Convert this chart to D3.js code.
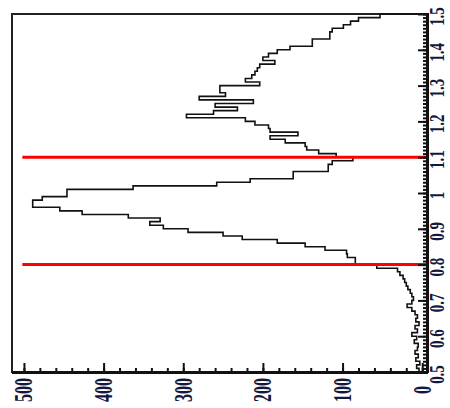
<!DOCTYPE html>
<html>
<head>
<meta charset="utf-8">
<script src="https://cdn.jsdelivr.net/npm/d3@7"></script>
<style>
  body { margin: 0; background: #fff; }
  svg { display: block; }
</style>
</head>
<body>
<svg id="chart" width="450" height="408"></svg>
<script>
// histogram of 0.5..1.5 in bins of 0.01 (lower edge = binStart + i * binWidth)
const binStart = 0.5;
const binWidth = 0.01;
const counts = [
  4, 7, 3, 8, 5, 9, 6, 5, 10, 7,            // 0.50 - 0.59
  13, 6, 9, 4, 8, 6, 9, 13, 19, 13,         // 0.60 - 0.69
  11, 13, 15, 18, 20, 22, 24, 28, 31, 57,   // 0.70 - 0.79
  84, 84, 94, 95, 122, 147, 182, 226, 250, 294,   // 0.80 - 0.89
  325, 342, 329, 369, 427, 455, 489, 489, 477, 446, // 0.90 - 0.99
  446, 363, 258, 216, 162, 162, 118, 118, 113, 87,  // 1.00 - 1.09
  108, 130, 145, 147, 172, 191, 156, 191, 193, 210, // 1.10 - 1.19
  222, 296, 262, 232, 260, 212, 280, 247, 254, 254, // 1.20 - 1.29
  204, 222, 214, 210, 207, 204, 185, 200, 193, 182, // 1.30 - 1.39
  166, 138, 138, 116, 116, 113, 99, 90, 80, 53      // 1.40 - 1.49
];

// cut lines
const cuts = [0.8, 1.1];

// tick values
const valueMajor = [0.5, 0.6, 0.7, 0.8, 0.9, 1, 1.1, 1.2, 1.3, 1.4, 1.5];
const valueLabels = ["0.5", "0.6", "0.7", "0.8", "0.9", "1", "1.1", "1.2", "1.3", "1.4", "1.5"];
const countMajor = [0, 100, 200, 300, 400, 500];

const svg = d3.select("#chart");

// chart is drawn lying on its side: counts run right -> left, values bottom -> top
const plotL = 12, plotR = 427, plotT = 14, plotB = 372;

const x = d3.scaleLinear().domain([-6, 515]).range([plotR, plotL]);
const y = d3.scaleLinear().domain([0.5, 1.5]).range([plotB, plotT]);

// frame
svg.append("rect")
  .attr("x", plotL).attr("y", plotT)
  .attr("width", plotR - plotL).attr("height", plotB - plotT)
  .style("fill", "none")
  .style("stroke", "#222")
  .style("stroke-width", 2);

// histogram outline as one step path
let pts = [[x(0), y(binStart)]];
counts.forEach((c, i) => {
  const v0 = binStart + i * binWidth;
  pts.push([x(c), y(v0)]);
  pts.push([x(c), y(v0 + binWidth)]);
});
pts.push([x(0), y(binStart + counts.length * binWidth)]);

svg.append("path")
  .attr("d", d3.line()(pts))
  .style("fill", "none")
  .style("stroke", "#111")
  .style("stroke-width", 1.6);

// red cut lines
svg.selectAll(".cut")
  .data(cuts)
  .enter()
  .append("line")
  .attr("class", "cut")
  .attr("x1", x(502)).attr("x2", plotR)
  .attr("y1", d => y(d)).attr("y2", d => y(d))
  .style("stroke", "#ff0000")
  .style("stroke-width", 3);

// right axis (values)
const minorValues = d3.range(0, 101).map(i => 0.5 + i / 100);
svg.append("g")
  .attr("transform", `translate(${plotR},0)`)
  .call(d3.axisRight(y).tickValues(minorValues).tickSize(-4).tickFormat(""))
  .call(g => g.select(".domain").remove());

const yAxis = svg.append("g")
  .attr("transform", `translate(${plotR},0)`)
  .call(d3.axisRight(y).tickValues(valueMajor).tickSize(-9)
    .tickFormat((d, i) => valueLabels[i]));

// bottom axis (counts)
const minorCounts = d3.range(0, 501, 20);
svg.append("g")
  .attr("transform", `translate(0,${plotB})`)
  .call(d3.axisBottom(x).tickValues(minorCounts).tickSize(-4).tickFormat(""))
  .call(g => g.select(".domain").remove());

const xAxis = svg.append("g")
  .attr("transform", `translate(0,${plotB})`)
  .call(d3.axisBottom(x).tickValues(countMajor).tickSize(-9));

svg.selectAll(".tick line").style("stroke", "#111").style("stroke-width", 2);
xAxis.select(".domain").attr("d", `M${plotL},0.5H${plotR + 1}`).style("stroke", "#111").style("stroke-width", 3);
yAxis.select(".domain").attr("d", `M0.5,${plotT - 1}V${plotB + 1}`).style("stroke", "#111").style("stroke-width", 3);

// labels are turned on their side, like the rest of the chart
yAxis.selectAll("text")
  .attr("x", null).attr("dy", null)
  .attr("text-anchor", "middle")
  .attr("transform", "translate(17,2) rotate(-90) scale(1,1.45)")
  .style("font-family", "'Liberation Serif', 'DejaVu Serif', serif")
  .style("font-weight", "bold")
  .style("font-size", "15px")
  .style("fill", "#14183c");

xAxis.selectAll("text")
  .attr("y", null).attr("dy", null)
  .attr("text-anchor", "middle")
  .attr("transform", "translate(8,18) rotate(-90) scale(1,1.6)")
  .style("font-family", "'Liberation Serif', 'DejaVu Serif', serif")
  .style("font-weight", "bold")
  .style("font-size", "16px")
  .style("fill", "#14183c");
</script>
</body>
</html>
